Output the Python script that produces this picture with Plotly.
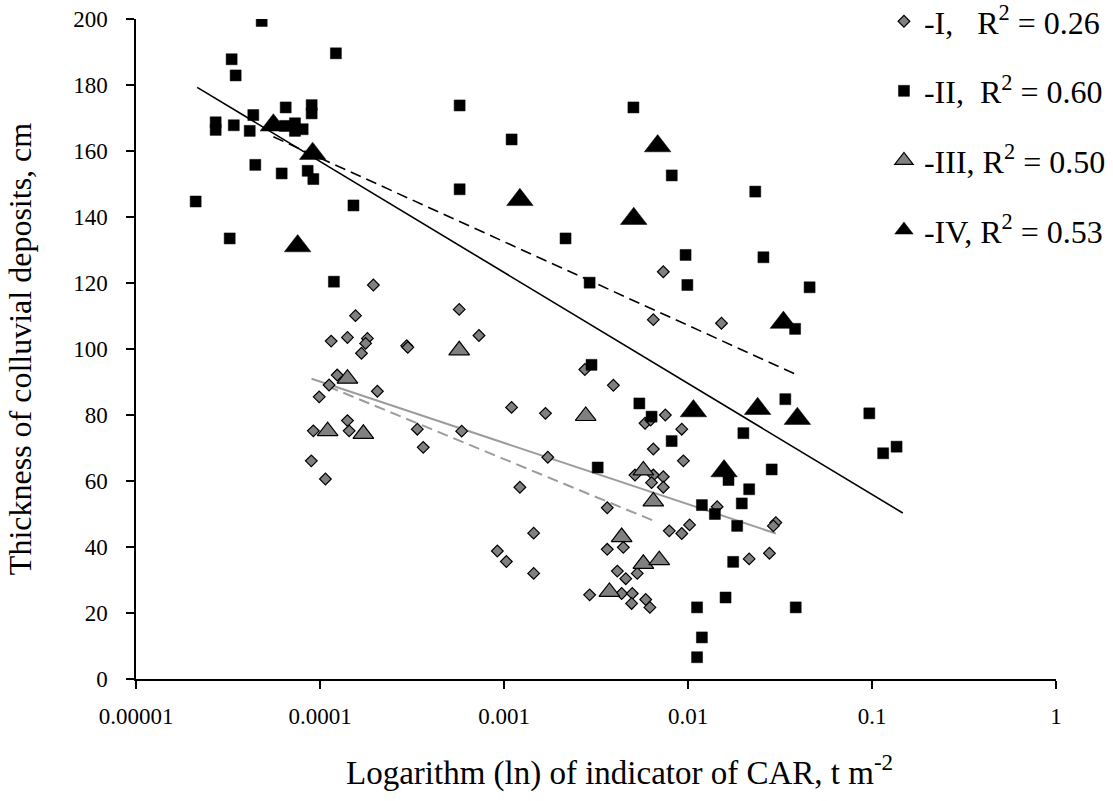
import plotly.graph_objects as go

# ---- data ----
I_x = [1.95e-4, 1.56e-4, 1.15e-4, 1.41e-4, 1.81e-4, 1.77e-4, 1.68e-4, 2.96e-4, 3.0e-4, 1.24e-4,
       1.12e-4, 9.9e-5, 2.05e-4, 9.2e-5, 1.41e-4, 1.44e-4, 3.38e-4, 3.64e-4, 8.97e-5, 1.07e-4,
       5.71e-4, 7.31e-4, 5.89e-4, 1.10e-3, 1.68e-3, 1.73e-3, 1.22e-3, 1.45e-3, 9.2e-4, 1.03e-3,
       1.45e-3, 2.75e-3, 3.93e-3, 7.34e-3, 6.48e-3, 1.52e-2, 7.53e-3, 5.84e-3, 6.27e-3, 9.25e-3,
       6.48e-3, 9.44e-3, 5.15e-3, 6.48e-3, 7.34e-3, 6.34e-3, 7.34e-3, 3.64e-3, 7.91e-3, 9.25e-3,
       1.02e-2, 3.64e-3, 4.45e-3, 4.13e-3, 4.59e-3, 5.3e-3, 2.92e-3, 4.36e-3, 4.98e-3, 4.94e-3,
       5.89e-3, 6.21e-3, 1.44e-2, 3.0e-2, 2.91e-2, 2.15e-2, 2.77e-2]
I_y = [119.4, 110.1, 102.4, 103.5, 103.2, 101.7, 98.7, 101.0, 100.5, 92.1,
       89.1, 85.5, 87.2, 75.2, 78.3, 75.2, 75.7, 70.2, 66.1, 60.6,
       112.0, 104.1, 75.1, 82.3, 80.5, 67.2, 58.1, 44.2, 38.8, 35.6,
       32.0, 93.8, 89.0, 123.4, 108.9, 107.8, 80.0, 77.5, 78.5, 75.7,
       69.7, 66.1, 61.8, 61.8, 61.3, 59.5, 58.1, 51.9, 44.9, 44.1,
       46.7, 39.3, 39.9, 32.7, 30.4, 32.0, 25.5, 25.9, 25.9, 22.9,
       24.1, 21.7, 52.2, 47.4, 46.4, 36.4, 38.1]

II_x = [4.82e-5, 3.31e-5, 3.48e-5, 1.22e-4, 4.34e-5, 2.71e-5, 2.71e-5, 3.40e-5, 4.15e-5, 6.51e-5,
        9.01e-5, 9.01e-5, 6.45e-5, 7.31e-5, 7.31e-5, 8.05e-5, 4.45e-5, 6.19e-5, 8.57e-5, 9.2e-5,
        2.11e-5, 1.52e-4, 3.23e-5, 1.19e-4, 5.74e-4, 1.10e-3, 5.74e-4, 5.05e-3, 8.16e-3, 2.16e-3,
        9.7e-3, 9.92e-3, 2.92e-3, 2.99e-3, 5.44e-3, 6.34e-3, 8.15e-3, 3.23e-3, 2.85e-2, 2.15e-2,
        1.96e-2, 1.19e-2, 1.40e-2, 1.85e-2, 1.76e-2, 1.60e-2, 1.12e-2, 1.19e-2, 1.12e-2, 3.85e-2,
        0.115, 0.136, 2.57e-2, 4.58e-2, 3.82e-2, 3.38e-2, 2.0e-2, 9.67e-2, 1.66e-2, 2.32e-2]
II_y = [199.4, 187.8, 182.9, 189.6, 170.9, 168.7, 166.4, 167.8, 166.1, 173.2,
        173.9, 171.4, 167.6, 168.4, 166.1, 166.6, 155.8, 153.2, 154.0, 151.5,
        144.7, 143.5, 133.5, 120.4, 173.8, 163.5, 148.4, 173.2, 152.6, 133.5,
        128.5, 119.4, 120.1, 95.2, 83.5, 79.5, 72.1, 64.1, 63.5, 57.5,
        53.2, 52.7, 50.0, 46.4, 35.5, 24.7, 21.7, 12.6, 6.6, 21.7,
        68.4, 70.4, 127.8, 118.7, 106.1, 84.8, 74.5, 80.5, 60.3, 147.7]

III_x = [1.41e-4, 1.10e-4, 1.72e-4, 5.71e-4, 2.78e-3, 5.72e-3, 6.48e-3, 4.36e-3, 5.72e-3, 6.98e-3, 3.74e-3]
III_y = [91.0, 75.1, 74.3, 99.6, 79.7, 63.2, 53.8, 43.0, 34.9, 36.0, 26.4]

IV_x = [5.58e-5, 9.12e-5, 7.56e-5, 1.22e-3, 6.84e-3, 5.07e-3, 1.07e-2, 1.57e-2, 3.3e-2, 2.39e-2, 3.93e-2]
IV_y = [167.8, 159.2, 131.2, 145.2, 161.5, 139.5, 81.2, 63.0, 108.0, 81.9, 78.9]

# trend lines (endpoints)
trend_I_x, trend_I_y = [9.0e-5, 3.0e-2], [91.0, 44.1]
trend_II_x, trend_II_y = [2.15e-5, 0.147], [179.3, 50.3]
trend_III_x, trend_III_y = [1.1e-4, 6.6e-3], [88.7, 47.8]
trend_IV_x, trend_IV_y = [5.58e-5, 3.93e-2], [164.3, 92.1]

legend_names = ["-I,   R<sup>2</sup> = 0.26", "-II,  R<sup>2</sup> = 0.60",
                "-III, R<sup>2</sup> = 0.50", "-IV, R<sup>2</sup> = 0.53"]

x_tickvals = [1e-5, 1e-4, 1e-3, 1e-2, 1e-1, 1]
x_ticktext = ["0.00001", "0.0001", "0.001", "0.01", "0.1", "1"]
y_tickvals = list(range(0, 201, 20))

x_title = "Logarithm (ln) of indicator of CAR, t m<sup>-2</sup>"
y_title = "Thickness of colluvial deposits, cm"

FONT = "Liberation Serif, Times New Roman, serif"
GREY = "#808080"
LGREY = "#9c9c9c"

fig = go.Figure()

# trend lines first (behind markers)
fig.add_trace(go.Scatter(x=trend_II_x, y=trend_II_y, mode="lines",
                         line=dict(color="black", width=1.6), showlegend=False, hoverinfo="skip"))
fig.add_trace(go.Scatter(x=trend_IV_x, y=trend_IV_y, mode="lines",
                         line=dict(color="black", width=1.6, dash="11px,6px"), showlegend=False, hoverinfo="skip"))
fig.add_trace(go.Scatter(x=trend_I_x, y=trend_I_y, mode="lines",
                         line=dict(color=LGREY, width=2), showlegend=False, hoverinfo="skip"))
fig.add_trace(go.Scatter(x=trend_III_x, y=trend_III_y, mode="lines",
                         line=dict(color=LGREY, width=2, dash="11px,6px"), showlegend=False, hoverinfo="skip"))

fig.add_trace(go.Scatter(x=I_x, y=I_y, mode="markers", name=legend_names[0], legendgroup="g1",
                         marker=dict(symbol="diamond", size=9, color=GREY,
                                     line=dict(color="black", width=1.2))))
fig.add_trace(go.Scatter(x=II_x, y=II_y, mode="markers", name=legend_names[1], legendgroup="g2",
                         marker=dict(symbol="square", size=11, color="black",
                                     line=dict(color="black", width=0.5))))
fig.add_trace(go.Scatter(x=III_x, y=III_y, mode="markers", name=legend_names[2], legendgroup="g3",
                         marker=dict(symbol="triangle-up", size=18, color=GREY,
                                     line=dict(color="black", width=1.2))))
fig.add_trace(go.Scatter(x=IV_x, y=IV_y, mode="markers", name=legend_names[3], legendgroup="g4",
                         marker=dict(symbol="triangle-up", size=23, color="black",
                                     line=dict(color="black", width=0.5))))

fig.update_layout(
    width=1113, height=801,
    margin=dict(l=136, r=57, t=19, b=122, autoexpand=False),
    paper_bgcolor="white", plot_bgcolor="white",
    font=dict(family=FONT, size=22, color="black"),
    showlegend=True,
    legend=dict(x=0.813, y=1.038, xanchor="left", yanchor="top",
                font=dict(family=FONT, size=32, color="black"),
                bgcolor="rgba(0,0,0,0)", tracegroupgap=25, itemsizing="trace"),
    xaxis=dict(type="log", range=[-5, 0], tickvals=x_tickvals, ticktext=x_ticktext,
               showgrid=False, zeroline=False, showline=True, linecolor="black", linewidth=1.5,
               ticks="outside", ticklen=8, tickwidth=1.5, tickcolor="black",
               tickfont=dict(family=FONT, size=23), ticklabelstandoff=8),
    yaxis=dict(range=[0, 200], tickvals=y_tickvals,
               showgrid=False, zeroline=False, showline=True, linecolor="black", linewidth=1.5,
               ticks="outside", ticklen=8, tickwidth=1.5, tickcolor="black",
               tickfont=dict(family=FONT, size=23), ticklabelstandoff=14,
               title=dict(text=y_title, font=dict(family=FONT, size=32), standoff=32)),
    annotations=[dict(text=x_title, xref="paper", yref="paper", x=0.526, y=-0.138,
                      xanchor="center", yanchor="middle", showarrow=False,
                      font=dict(family=FONT, size=33, color="black"))],
)

fig.write_html("out.html")
